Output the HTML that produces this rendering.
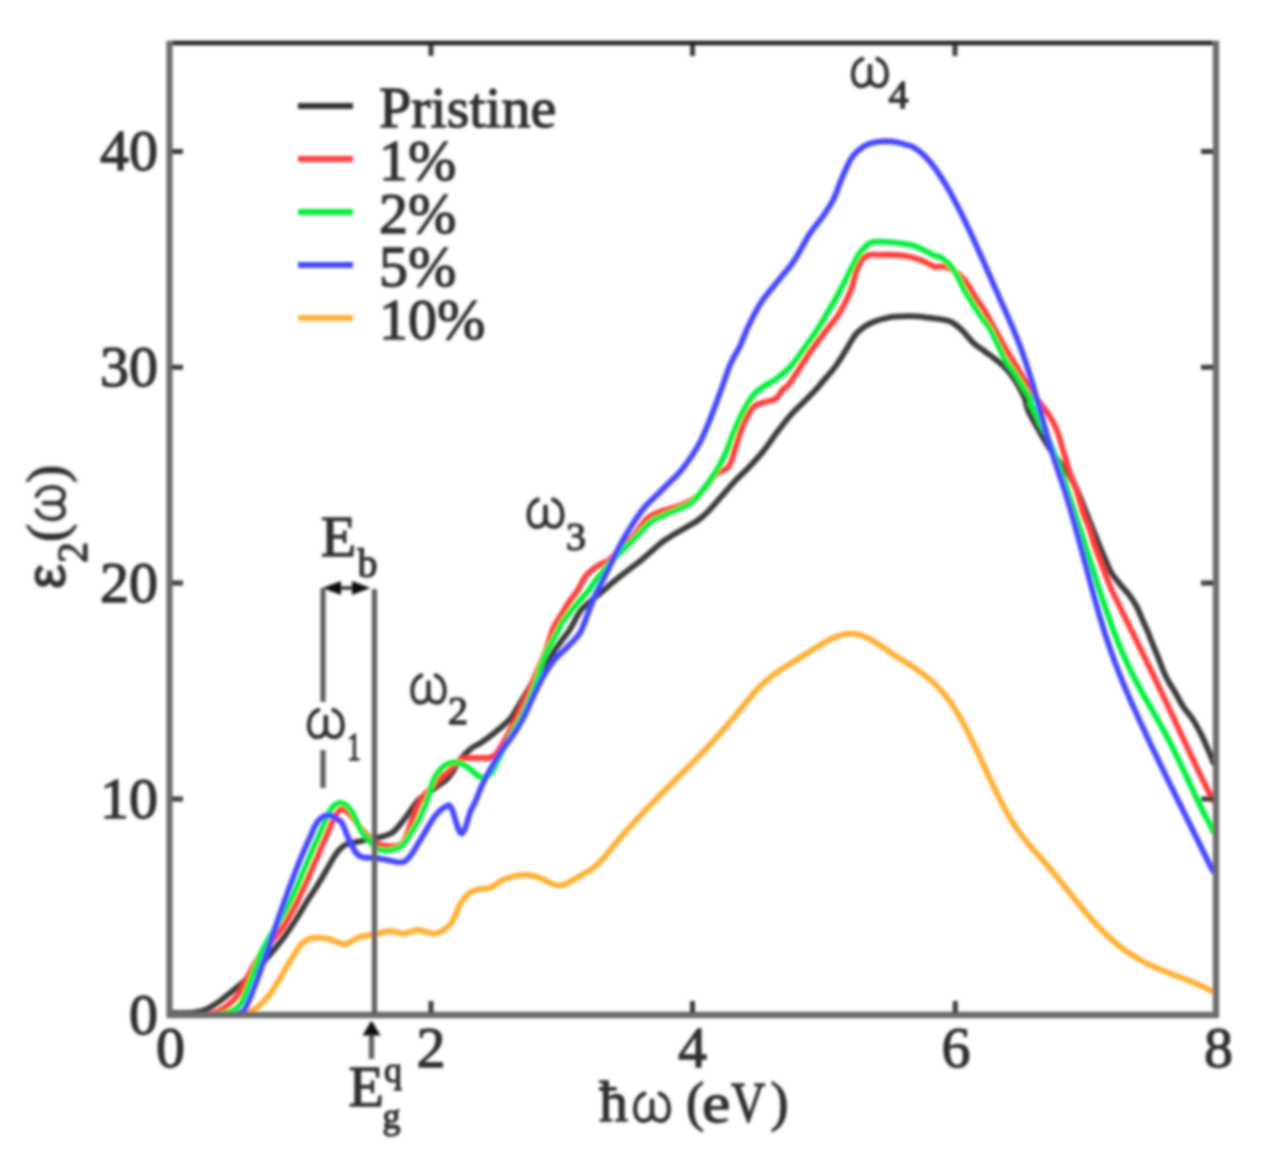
<!DOCTYPE html>
<html><head><meta charset="utf-8"><style>
html,body{margin:0;padding:0;background:#fff;}
body{width:1271px;height:1152px;overflow:hidden;}
svg{display:block;}
svg{font-family:"Liberation Serif",serif;}
text{fill:#2e2e2e;stroke:#2e2e2e;stroke-width:1.3px;}
</style></head><body>
<svg width="1271" height="1152" viewBox="0 0 1271 1152">
<defs><filter id="bl" x="-5%" y="-5%" width="110%" height="110%"><feGaussianBlur stdDeviation="1.4"/></filter>
<g id="om" fill="none" stroke="#2e2e2e" stroke-linecap="round">
<path stroke-width="4.5" d="M12 -30.5C5.5 -28 2.2 -21.5 2.2 -15C2.2 -7 5.5 -2.2 11 -2.2C15.5 -2.2 18.6 -4.5 19.8 -9"/>
<path stroke-width="4.5" d="M28 -30.5C34.5 -28 37.8 -21.5 37.8 -15C37.8 -7 34.5 -2.2 29 -2.2C24.5 -2.2 21.4 -4.5 20.2 -9"/>
<path stroke-width="4.8" d="M20 -23V-8"/>
</g></defs>
<rect width="1271" height="1152" fill="#fff"/>
<g filter="url(#bl)">
<!-- curves -->
<g fill="none" stroke-width="5.8" stroke-linejoin="round" stroke-linecap="round">
<path stroke="#ffb036" d="M170.0 1015.0C181.0 1015.0 224.0 1015.2 236.0 1015.0C248.0 1014.8 240.0 1014.5 242.0 1014.0C244.0 1013.5 245.8 1012.9 248.0 1012.0C250.2 1011.1 253.0 1010.2 255.5 1008.5C258.0 1006.8 260.6 1004.6 263.1 1002.0C265.6 999.4 268.2 996.4 270.7 993.0C273.2 989.6 275.7 985.6 278.2 981.5C280.7 977.4 283.3 972.5 285.8 968.3C288.3 964.0 290.9 959.8 293.3 956.0C295.7 952.2 297.9 948.3 300.0 945.7C302.1 943.1 304.0 941.8 306.0 940.5C308.0 939.2 308.4 938.3 312.0 938.0C315.6 937.7 322.3 937.7 327.8 938.7C333.3 939.7 339.8 944.3 345.0 944.0C350.2 943.7 354.1 938.6 359.0 937.0C363.9 935.4 369.4 935.4 374.6 934.4C379.8 933.4 385.1 931.1 390.0 931.0C394.9 930.9 399.3 933.7 404.0 933.5C408.7 933.3 412.8 930.0 418.0 930.0C423.2 930.0 430.2 934.3 435.4 933.5C440.6 932.7 446.0 928.6 449.4 925.4C452.8 922.2 453.8 918.1 455.7 914.4C457.6 910.7 458.4 906.8 460.5 903.4C462.6 900.0 465.4 896.4 468.3 894.0C471.2 891.6 474.1 890.2 477.8 889.2C481.5 888.2 486.2 889.3 490.4 887.7C494.6 886.1 498.8 881.8 503.0 879.8C507.2 877.8 511.3 876.7 515.5 875.9C519.7 875.1 523.9 874.6 528.1 875.0C532.3 875.4 537.0 876.9 540.7 878.2C544.4 879.5 547.1 881.8 550.2 883.0C553.4 884.2 556.5 885.4 559.6 885.3C562.7 885.2 565.3 883.9 569.0 882.2C572.7 880.5 577.4 877.5 581.6 875.0C585.8 872.5 590.5 870.1 594.2 867.2C597.9 864.3 601.3 860.4 603.7 857.8C606.1 855.2 607.0 853.9 608.7 851.9C610.4 849.8 612.0 847.7 613.7 845.7C615.4 843.6 617.0 841.6 618.7 839.7C620.4 837.7 622.0 835.8 623.7 833.8C625.4 831.9 627.0 830.0 628.7 828.2C630.4 826.3 632.0 824.5 633.7 822.7C635.4 820.8 637.0 819.0 638.7 817.3C640.4 815.5 642.0 813.7 643.7 812.0C645.4 810.2 647.0 808.5 648.7 806.8C650.4 805.1 652.0 803.4 653.7 801.7C655.4 800.0 657.0 798.3 658.7 796.6C660.4 794.9 662.0 793.3 663.7 791.6C665.4 789.9 667.0 788.3 668.7 786.6C670.4 784.9 672.0 783.3 673.7 781.6C675.4 780.0 677.0 778.3 678.7 776.6C680.4 775.0 682.0 773.3 683.7 771.6C685.4 770.0 687.0 768.3 688.7 766.6C690.4 764.9 692.0 763.2 693.7 761.5C695.4 759.8 697.0 758.1 698.7 756.4C700.4 754.7 702.0 752.9 703.7 751.2C705.4 749.4 707.0 747.6 708.7 745.9C710.4 744.1 712.0 742.3 713.7 740.4C715.4 738.6 717.0 736.8 718.7 734.9C720.4 733.1 722.0 731.2 723.7 729.3C725.4 727.3 727.0 725.4 728.7 723.4C730.4 721.5 732.0 719.5 733.7 717.5C735.4 715.5 737.0 713.4 738.7 711.3C740.4 709.3 742.0 707.2 743.7 705.1C745.4 703.1 747.0 701.0 748.7 699.1C750.4 697.1 752.0 695.1 753.7 693.2C755.4 691.3 757.0 689.5 758.7 687.8C760.4 686.1 762.0 684.4 763.7 682.9C765.4 681.4 767.0 679.9 768.7 678.6C770.4 677.2 772.0 675.9 773.7 674.7C775.4 673.5 777.0 672.3 778.7 671.1C780.4 670.0 782.0 668.9 783.7 667.8C785.4 666.7 787.0 665.6 788.7 664.6C790.4 663.5 792.0 662.5 793.7 661.5C795.4 660.4 797.0 659.4 798.7 658.4C800.4 657.4 802.0 656.4 803.7 655.3C805.4 654.3 807.0 653.3 808.7 652.2C810.4 651.2 812.0 650.1 813.7 649.0C815.4 648.0 817.0 646.9 818.7 645.9C820.4 644.9 822.0 643.9 823.7 642.9C825.4 642.0 827.0 641.0 828.7 640.2C830.4 639.3 832.0 638.5 833.7 637.8C835.4 637.1 837.0 636.4 838.7 635.8C840.4 635.3 842.0 634.8 843.7 634.4C845.4 634.1 847.0 633.8 848.7 633.7C850.4 633.6 852.0 633.6 853.7 633.7C855.4 633.8 857.0 634.1 858.7 634.6C860.4 635.0 862.0 635.6 863.7 636.2C865.4 636.9 867.0 637.7 868.7 638.5C870.4 639.4 872.0 640.3 873.7 641.3C875.4 642.3 877.0 643.4 878.7 644.5C880.4 645.6 882.0 646.7 883.7 647.9C885.4 649.0 887.0 650.2 888.7 651.3C890.4 652.5 892.0 653.6 893.7 654.7C895.4 655.8 897.0 656.8 898.7 657.9C900.4 659.0 902.0 660.0 903.7 661.0C905.4 662.1 907.0 663.1 908.7 664.2C910.4 665.3 912.0 666.3 913.7 667.4C915.4 668.5 917.0 669.7 918.7 670.9C920.4 672.0 922.0 673.2 923.7 674.5C925.4 675.8 927.0 677.1 928.7 678.6C930.4 680.0 932.0 681.4 933.7 683.0C935.4 684.6 937.0 686.2 938.7 688.0C940.4 689.7 942.0 691.6 943.7 693.5C945.4 695.5 947.0 697.6 948.7 699.8C950.4 702.1 952.0 704.4 953.7 707.0C955.4 709.5 957.0 712.2 958.7 715.1C960.4 717.9 962.0 721.0 963.7 724.1C965.4 727.2 967.0 730.4 968.7 733.8C970.4 737.1 972.0 740.5 973.7 744.0C975.4 747.4 977.0 751.0 978.7 754.5C980.4 758.1 982.0 761.7 983.7 765.3C985.4 768.9 987.0 772.5 988.7 776.1C990.4 779.6 992.0 783.2 993.7 786.7C995.4 790.1 997.0 793.6 998.7 796.9C1000.4 800.3 1002.0 803.6 1003.7 806.7C1005.4 809.9 1007.0 812.9 1008.7 815.8C1010.4 818.7 1012.0 821.5 1013.7 824.1C1015.4 826.7 1017.0 829.1 1018.7 831.5C1020.4 833.8 1022.0 836.0 1023.7 838.1C1025.4 840.3 1027.0 842.3 1028.7 844.3C1030.4 846.3 1032.0 848.2 1033.7 850.0C1035.4 851.9 1037.0 853.8 1038.7 855.6C1040.4 857.5 1042.0 859.3 1043.7 861.2C1045.4 863.1 1047.0 865.0 1048.7 867.0C1050.4 869.0 1052.0 870.9 1053.7 873.0C1055.4 875.0 1057.0 877.0 1058.7 879.1C1060.4 881.1 1062.0 883.2 1063.7 885.3C1065.4 887.4 1067.0 889.5 1068.7 891.6C1070.4 893.6 1072.0 895.7 1073.7 897.8C1075.4 899.9 1077.0 901.9 1078.7 904.0C1080.4 906.0 1082.0 908.0 1083.7 910.0C1085.4 912.0 1087.0 914.0 1088.7 915.9C1090.4 917.8 1092.0 919.7 1093.7 921.6C1095.4 923.4 1097.0 925.2 1098.7 926.9C1100.4 928.6 1102.0 930.3 1103.7 932.0C1105.4 933.6 1107.0 935.2 1108.7 936.8C1110.4 938.3 1112.0 939.8 1113.7 941.2C1115.4 942.7 1117.0 944.1 1118.7 945.4C1120.4 946.7 1122.0 948.0 1123.7 949.3C1125.4 950.5 1127.0 951.7 1128.7 952.8C1130.4 954.0 1132.0 955.1 1133.7 956.1C1135.4 957.1 1137.0 958.1 1138.7 959.1C1140.4 960.0 1142.0 960.9 1143.7 961.8C1145.4 962.7 1147.0 963.5 1148.7 964.3C1150.4 965.1 1152.0 965.9 1153.7 966.6C1155.4 967.4 1157.0 968.1 1158.7 968.8C1160.4 969.5 1162.0 970.2 1163.7 970.9C1165.4 971.5 1167.0 972.2 1168.7 972.8C1170.4 973.5 1172.0 974.1 1173.7 974.7C1175.4 975.4 1177.0 976.0 1178.7 976.6C1180.4 977.3 1182.0 977.9 1183.7 978.6C1185.4 979.2 1187.0 979.8 1188.7 980.5C1190.4 981.2 1192.0 981.8 1193.7 982.5C1195.4 983.2 1197.0 984.0 1198.7 984.7C1200.4 985.4 1202.0 986.2 1203.7 987.0C1205.4 987.8 1207.1 988.7 1208.7 989.5C1210.3 990.2 1212.5 991.2 1213.2 991.5"/>
<path stroke="#3a3a3a" d="M170.0 1013.0C172.5 1013.0 180.8 1013.1 185.0 1013.0C189.2 1012.9 192.0 1012.7 195.0 1012.3C198.0 1011.9 200.5 1011.4 203.0 1010.6C205.5 1009.8 207.2 1009.2 210.0 1007.6C212.8 1006.0 216.2 1003.8 220.0 1001.0C223.8 998.2 228.7 994.2 233.0 990.7C237.3 987.2 241.4 983.9 245.6 980.0C249.8 976.1 254.0 971.9 258.2 967.5C262.4 963.1 266.6 958.4 270.8 953.5C275.0 948.6 279.2 943.7 283.4 938.0C287.6 932.3 292.1 925.5 296.0 919.5C299.9 913.5 303.1 907.6 306.6 902.0C310.1 896.4 313.7 891.3 317.0 886.0C320.3 880.7 323.7 874.8 326.5 870.0C329.3 865.2 331.8 860.5 334.0 857.0C336.2 853.5 338.0 851.1 340.0 849.0C342.0 846.9 344.0 845.5 346.0 844.5C348.0 843.5 348.7 843.8 352.0 843.0C355.3 842.2 361.9 840.6 366.0 839.8C370.1 839.0 372.1 839.1 376.4 838.0C380.7 836.9 387.5 835.9 392.0 832.9C396.5 829.9 400.4 823.8 403.6 820.0C406.8 816.2 408.5 813.3 411.0 810.0C413.5 806.7 416.2 802.5 418.5 800.0C420.8 797.5 422.9 796.5 425.0 795.0C427.1 793.5 428.8 792.6 431.0 791.0C433.2 789.4 436.0 787.3 438.5 785.5C441.0 783.7 443.7 782.2 446.0 780.0C448.3 777.8 450.2 775.3 452.5 772.0C454.8 768.7 456.8 763.9 459.8 760.0C462.9 756.1 467.2 751.6 470.8 748.7C474.4 745.8 477.5 745.2 481.6 742.4C485.7 739.6 490.9 735.8 495.5 732.0C500.1 728.2 505.9 723.6 509.4 719.8C512.9 716.0 513.5 714.0 516.4 709.4C519.3 704.8 522.7 698.6 526.8 692.0C530.9 685.4 537.3 675.3 541.0 670.0C544.7 664.7 546.7 663.3 549.0 660.0C551.3 656.7 552.6 653.3 554.8 650.0C557.0 646.7 559.5 643.3 562.0 640.0C564.5 636.7 566.3 635.0 569.5 630.0C572.7 625.0 577.2 615.0 581.0 610.0C584.8 605.0 588.2 603.3 592.0 600.0C595.8 596.7 600.7 592.8 604.0 590.0C607.3 587.2 609.2 585.3 612.0 583.0C614.8 580.7 617.4 578.5 620.6 576.0C623.8 573.5 627.5 570.7 631.0 568.0C634.5 565.3 637.8 563.0 641.5 560.0C645.2 557.0 649.1 553.3 653.0 550.0C656.9 546.7 660.2 543.3 665.0 540.0C669.8 536.7 675.9 533.3 681.5 530.0C687.1 526.7 694.0 523.0 698.4 520.0C702.8 517.0 703.9 515.8 707.8 511.8C711.7 507.8 717.0 501.4 721.6 496.2C726.2 491.0 730.9 485.5 735.5 480.6C740.1 475.7 744.8 471.6 749.4 466.7C754.0 461.8 758.7 456.9 763.3 451.1C767.9 445.3 772.6 438.1 777.2 432.0C781.8 425.9 786.5 419.8 791.1 414.6C795.7 409.4 800.9 404.8 805.0 400.7C809.1 396.6 812.3 393.4 815.5 390.0C818.7 386.6 821.1 383.3 824.0 380.0C826.9 376.7 830.3 373.0 832.7 370.0C835.1 367.0 836.3 365.3 838.5 362.0C840.7 358.7 843.9 353.4 846.0 350.0C848.1 346.6 849.3 344.2 851.0 341.5C852.7 338.8 854.0 336.3 856.0 334.0C858.0 331.7 860.5 329.5 862.8 327.8C865.1 326.1 867.4 324.8 869.7 323.6C872.0 322.4 874.4 321.6 876.7 320.8C879.0 320.0 880.6 319.5 883.6 318.8C886.6 318.1 889.6 317.1 895.0 316.7C900.4 316.3 908.5 315.9 916.0 316.3C923.5 316.7 934.1 318.3 940.0 319.2C945.9 320.1 947.4 320.0 951.1 321.9C954.8 323.8 958.5 326.8 962.2 330.3C965.9 333.8 969.6 339.3 973.3 342.8C977.0 346.3 980.7 348.3 984.4 351.1C988.1 353.9 992.4 356.8 995.6 359.4C998.9 361.9 1001.1 363.6 1003.9 366.4C1006.7 369.2 1009.7 372.6 1012.2 376.1C1014.8 379.6 1017.1 383.5 1019.2 387.2C1021.3 390.9 1023.2 394.4 1024.7 398.3C1026.2 402.2 1026.1 405.7 1028.3 410.8C1030.5 415.9 1034.8 423.1 1038.0 428.9C1041.2 434.7 1044.5 440.5 1047.8 445.6C1051.0 450.7 1054.5 455.2 1057.5 459.4C1060.5 463.6 1063.2 466.9 1065.8 470.6C1068.3 474.3 1070.7 478.0 1072.8 481.7C1074.9 485.4 1076.4 488.6 1078.3 492.8C1080.2 497.0 1082.1 502.1 1083.9 506.7C1085.8 511.3 1087.6 516.0 1089.4 520.6C1091.2 525.2 1093.2 530.0 1095.0 534.4C1096.8 538.8 1098.4 543.1 1100.0 547.0C1101.6 550.9 1102.8 553.6 1104.7 558.0C1106.7 562.4 1108.9 568.7 1111.7 573.3C1114.5 577.9 1118.4 582.1 1121.4 585.8C1124.4 589.5 1127.2 592.1 1129.7 595.6C1132.2 599.1 1134.6 602.8 1136.7 606.7C1138.8 610.6 1140.4 615.0 1142.2 619.2C1144.0 623.4 1146.0 627.3 1147.8 631.7C1149.6 636.1 1151.4 641.0 1153.3 645.6C1155.2 650.2 1157.1 654.8 1158.9 659.4C1160.8 664.0 1162.6 669.2 1164.4 673.3C1166.2 677.4 1168.2 680.9 1170.0 684.0C1171.8 687.1 1172.8 688.2 1175.0 692.0C1177.2 695.8 1180.1 701.9 1183.1 706.5C1186.1 711.1 1190.0 715.0 1193.0 719.7C1196.0 724.4 1198.8 729.7 1201.3 734.6C1203.8 739.5 1206.0 744.9 1207.9 749.4C1209.9 753.9 1212.1 759.3 1213.0 761.5C1213.9 763.7 1213.2 762.3 1213.2 762.5"/>
<path stroke="#ff3c3c" d="M170.0 1015.0C175.0 1015.0 193.3 1015.2 200.0 1015.0C206.7 1014.8 207.0 1014.6 210.0 1014.0C213.0 1013.4 215.3 1012.8 218.0 1011.5C220.7 1010.2 223.5 1008.3 226.0 1006.5C228.5 1004.7 231.0 1002.4 233.0 1000.5C235.0 998.6 236.3 997.5 238.0 995.1C239.7 992.7 241.3 989.3 243.0 986.2C244.7 983.0 246.3 979.5 248.0 976.3C249.7 973.0 251.3 969.7 253.0 966.7C254.7 963.7 256.3 960.8 258.0 958.3C259.7 955.7 261.3 953.5 263.0 951.3C264.7 949.1 266.3 947.2 268.0 945.2C269.7 943.3 271.3 941.5 273.0 939.5C274.7 937.5 276.3 935.6 278.0 933.5C279.7 931.4 281.3 929.1 283.0 926.7C284.7 924.2 286.3 921.5 288.0 918.7C289.7 915.9 291.3 912.9 293.0 909.7C294.7 906.6 296.3 903.3 298.0 899.9C299.7 896.5 301.3 893.0 303.0 889.4C304.7 885.8 306.3 882.1 308.0 878.4C309.7 874.6 311.3 870.8 313.0 866.9C314.7 863.1 316.3 859.2 318.0 855.3C319.7 851.4 321.7 846.5 323.0 843.5C324.3 840.4 324.7 840.1 326.0 837.0C327.3 833.9 329.3 828.7 331.0 825.0C332.7 821.3 334.2 817.7 336.0 815.0C337.8 812.3 339.8 809.6 341.6 809.0C343.4 808.4 345.1 810.0 347.0 811.5C348.9 813.0 351.0 815.6 353.0 818.0C355.0 820.4 357.0 823.5 359.0 826.0C361.0 828.5 363.3 831.1 365.0 833.0C366.7 834.9 367.7 835.8 369.0 837.2C370.3 838.6 369.9 840.1 372.9 841.6C375.9 843.1 381.9 845.7 386.8 846.0C391.7 846.3 398.2 847.6 402.4 843.3C406.6 839.0 409.7 825.5 412.0 820.0C414.3 814.5 414.6 813.3 416.0 810.0C417.4 806.7 418.9 802.8 420.6 800.0C422.3 797.2 424.1 795.2 426.0 793.0C427.9 790.8 430.0 789.0 432.0 787.0C434.0 785.0 436.0 783.0 438.0 781.0C440.0 779.0 442.2 776.6 444.0 775.0C445.8 773.4 447.1 773.2 448.8 771.5C450.5 769.8 452.2 766.9 454.0 765.0C455.8 763.1 458.0 761.1 459.8 760.0C461.6 758.9 463.2 758.6 465.0 758.3C466.8 758.0 467.0 758.0 470.8 758.0C474.6 758.0 485.0 758.0 488.0 758.0C491.0 758.0 487.4 758.6 488.6 758.0C489.9 757.4 493.2 756.8 495.5 754.5C497.8 752.2 499.3 749.5 502.5 744.0C505.7 738.5 510.6 729.7 514.6 721.6C518.6 713.5 523.0 703.9 526.8 695.5C530.6 687.1 534.0 678.8 537.2 671.2C540.4 663.6 543.5 656.9 546.0 650.0C548.5 643.1 550.5 635.0 552.5 630.0C554.5 625.0 556.1 623.3 558.0 620.0C559.9 616.7 561.9 613.3 564.0 610.0C566.1 606.7 568.2 603.3 570.5 600.0C572.8 596.7 575.3 594.0 577.8 590.0C580.3 586.0 583.3 579.3 585.7 576.0C588.1 572.7 589.8 571.8 592.0 570.0C594.2 568.2 596.1 566.7 599.0 565.0C601.9 563.3 605.9 562.4 609.4 559.8C612.9 557.2 615.8 553.4 619.8 549.4C623.8 545.4 629.1 540.7 633.7 535.5C638.3 530.3 643.0 522.2 647.6 518.2C652.2 514.2 656.3 513.2 661.5 511.2C666.7 509.2 672.8 508.5 678.8 506.0C684.8 503.5 691.4 501.3 697.4 496.2C703.4 491.1 709.5 480.3 714.7 475.4C719.9 470.5 725.1 471.3 728.6 466.7C732.1 462.1 733.2 454.2 735.5 447.6C737.8 441.0 739.6 433.5 742.5 426.8C745.4 420.1 749.4 411.8 752.9 407.7C756.4 403.6 759.5 403.9 763.3 402.5C767.0 401.1 772.2 401.1 775.4 399.0C778.6 396.9 780.1 392.7 782.5 390.0C784.9 387.3 785.5 389.2 790.0 383.0C794.5 376.8 803.4 361.9 809.5 353.0C815.6 344.1 821.7 336.5 826.8 329.7C831.9 322.9 835.9 318.9 839.9 312.4C843.9 305.9 847.8 297.9 850.7 290.7C853.6 283.5 854.7 274.8 857.2 269.0C859.8 263.2 862.4 258.4 866.0 256.0C869.6 253.6 872.9 254.9 879.0 254.8C885.1 254.7 895.7 254.5 902.6 255.4C909.5 256.3 915.3 258.1 920.6 260.0C925.9 261.9 931.0 265.6 934.2 266.7C937.4 267.8 937.6 266.2 940.0 266.4C942.4 266.6 945.1 266.4 948.3 267.8C951.5 269.2 956.1 271.9 959.4 274.7C962.6 277.5 965.0 280.5 967.8 284.4C970.6 288.3 973.4 294.0 976.1 298.3C978.8 302.6 981.0 304.7 984.2 310.0C987.5 315.3 992.3 324.4 995.6 330.3C998.9 336.2 1001.1 340.8 1003.9 345.6C1006.7 350.5 1009.4 354.8 1012.2 359.4C1015.0 364.0 1017.8 368.7 1020.6 373.3C1023.4 377.9 1026.4 383.0 1028.9 387.2C1031.4 391.4 1033.8 395.5 1035.8 398.3C1037.8 401.1 1038.3 400.6 1040.8 403.9C1043.3 407.1 1047.8 413.2 1050.6 417.8C1053.4 422.4 1055.7 427.1 1057.5 431.7C1059.3 436.3 1060.3 441.0 1061.7 445.6C1063.1 450.2 1064.4 454.8 1065.8 459.4C1067.2 464.0 1068.4 468.7 1070.0 473.3C1071.6 477.9 1074.0 482.6 1075.6 487.2C1077.2 491.8 1078.3 496.5 1079.7 501.1C1081.1 505.7 1082.3 510.4 1083.9 515.0C1085.5 519.6 1087.8 524.3 1089.4 528.9C1091.0 533.5 1092.0 537.9 1093.6 542.8C1095.2 547.6 1097.1 552.5 1099.2 558.0C1101.3 563.5 1104.1 571.0 1106.1 576.1C1108.1 581.2 1109.4 584.8 1111.1 588.6C1112.8 592.4 1114.4 595.6 1116.1 599.0C1117.8 602.5 1119.4 605.9 1121.1 609.3C1122.8 612.7 1124.4 616.1 1126.1 619.5C1127.8 622.9 1129.4 626.3 1131.1 629.7C1132.8 633.1 1134.4 636.5 1136.1 639.9C1137.8 643.3 1139.4 646.7 1141.1 650.1C1142.8 653.5 1144.4 656.9 1146.1 660.3C1147.8 663.7 1149.4 667.2 1151.1 670.6C1152.8 674.1 1154.4 677.5 1156.1 681.0C1157.8 684.5 1159.4 688.0 1161.1 691.5C1162.8 695.0 1164.4 698.5 1166.1 702.1C1167.8 705.6 1169.4 709.2 1171.1 712.7C1172.8 716.3 1174.4 719.9 1176.1 723.4C1177.8 727.0 1179.4 730.6 1181.1 734.2C1182.8 737.7 1184.4 741.3 1186.1 744.8C1187.8 748.4 1189.4 751.9 1191.1 755.5C1192.8 759.0 1194.4 762.5 1196.1 766.0C1197.8 769.5 1199.4 772.9 1201.1 776.4C1202.8 779.8 1204.4 783.2 1206.1 786.6C1207.8 789.9 1209.8 794.2 1211.1 796.6C1212.3 799.0 1213.2 800.3 1213.6 801.0"/>
<path stroke="#00f03c" d="M170.0 1015.0C176.7 1015.0 202.0 1015.1 210.0 1015.0C218.0 1014.9 214.2 1015.1 217.8 1014.4C221.5 1013.7 228.1 1012.5 231.9 1010.8C235.7 1009.1 238.2 1007.1 240.4 1004.2C242.7 1001.3 243.7 997.5 245.4 993.5C247.1 989.5 248.7 984.9 250.4 980.5C252.1 976.1 253.7 971.4 255.4 967.2C257.1 962.9 258.7 958.7 260.4 955.0C262.1 951.3 263.7 947.9 265.4 944.7C267.1 941.5 268.7 938.6 270.4 935.8C272.1 932.9 273.7 930.3 275.4 927.6C277.1 924.9 278.7 922.4 280.4 919.6C282.1 916.9 283.7 914.2 285.4 911.2C287.1 908.2 288.7 905.1 290.4 901.7C292.1 898.3 293.7 894.5 295.4 890.8C297.1 887.0 298.7 882.9 300.4 878.9C302.1 875.0 303.7 870.9 305.4 866.9C307.1 863.0 308.7 859.1 310.4 855.2C312.1 851.3 313.7 847.5 315.4 843.7C317.1 840.0 318.8 836.2 320.4 832.6C322.0 829.0 323.4 825.6 325.0 822.0C326.6 818.4 328.3 813.8 330.0 811.0C331.7 808.2 333.1 806.3 335.0 805.0C336.9 803.7 339.4 802.7 341.6 803.0C343.8 803.3 346.1 805.2 348.0 807.0C349.9 808.8 351.5 811.3 353.0 814.0C354.5 816.7 355.7 820.0 357.2 823.0C358.7 826.0 360.4 829.6 362.0 832.0C363.6 834.4 365.5 835.9 366.7 837.2C367.9 838.5 367.8 837.9 369.4 839.8C371.0 841.7 372.9 846.8 376.4 848.5C379.9 850.2 385.9 850.8 390.2 850.2C394.5 849.6 398.6 848.5 402.4 845.0C406.2 841.5 410.1 833.6 412.8 829.4C415.5 825.2 417.0 823.2 418.7 820.0C420.4 816.8 421.6 813.3 423.0 810.0C424.4 806.7 426.0 803.3 427.2 800.0C428.4 796.7 429.1 793.3 430.2 790.0C431.3 786.7 432.8 782.5 433.8 780.0C434.9 777.5 434.9 777.2 436.5 775.0C438.1 772.8 440.9 768.7 443.3 766.7C445.7 764.7 448.4 763.4 451.1 762.8C453.9 762.1 457.2 762.1 459.8 762.8C462.4 763.4 464.4 765.0 466.9 766.7C469.4 768.4 472.7 771.4 474.7 773.0C476.7 774.6 477.7 775.7 479.0 776.5C480.3 777.3 481.4 777.9 482.6 777.8C483.9 777.7 484.9 777.0 486.5 776.0C488.1 775.0 489.3 776.2 492.0 772.0C494.7 767.8 499.0 757.7 502.5 751.0C506.0 744.3 509.4 738.4 512.9 732.0C516.4 725.6 519.8 720.1 523.3 712.9C526.8 705.7 530.2 697.9 533.7 688.6C537.2 679.4 540.0 667.2 544.1 657.4C548.2 647.6 555.1 636.1 558.2 630.0C561.4 623.9 560.8 624.3 563.0 621.0C565.2 617.7 568.7 613.5 571.5 610.0C574.3 606.5 577.1 603.3 580.0 600.0C582.9 596.7 586.5 593.2 589.1 590.0C591.7 586.8 592.1 585.2 595.5 580.7C598.9 576.2 604.8 568.5 609.4 563.3C614.0 558.1 618.7 554.0 623.3 549.4C627.9 544.8 632.6 540.1 637.2 535.5C641.8 530.9 646.4 525.1 651.0 521.6C655.6 518.1 660.2 516.9 665.0 514.7C669.8 512.5 675.8 510.2 680.0 508.3C684.2 506.4 686.9 505.7 690.4 503.1C693.9 500.5 696.8 497.6 700.8 492.7C704.8 487.8 710.7 480.0 714.7 473.6C718.8 467.2 721.9 461.4 725.1 454.5C728.3 447.6 730.9 438.9 733.8 432.0C736.7 425.1 739.3 419.0 742.5 412.9C745.7 406.8 749.4 399.8 752.9 395.5C756.4 391.2 759.2 389.8 763.3 386.9C767.3 384.0 772.6 381.7 777.2 378.2C781.8 374.7 786.5 371.2 791.1 366.0C795.8 360.8 801.5 352.1 805.1 347.1C808.8 342.1 810.7 339.4 813.0 336.0C815.3 332.6 817.3 329.7 819.0 327.0C820.7 324.3 821.6 322.8 823.3 320.0C825.0 317.2 827.0 313.3 829.0 310.0C831.0 306.7 832.2 305.0 835.0 300.0C837.8 295.0 842.7 285.5 845.5 280.0C848.3 274.5 849.7 271.4 852.0 267.0C854.3 262.6 856.4 257.7 859.4 253.7C862.4 249.7 866.3 244.9 870.3 242.9C874.3 240.9 878.7 241.8 883.3 241.8C887.9 241.8 892.5 242.2 898.0 243.0C903.5 243.8 910.0 244.3 916.0 246.4C922.0 248.5 930.2 253.7 934.2 255.4C938.2 257.1 937.6 255.3 940.0 256.7C942.4 258.1 945.5 260.6 948.3 263.6C951.1 266.6 954.0 270.3 956.7 274.7C959.4 279.1 962.1 285.8 964.4 290.0C966.7 294.2 968.5 296.7 970.5 300.0C972.5 303.3 974.5 306.7 976.7 310.0C978.9 313.3 981.3 316.9 983.5 320.0C985.7 323.1 987.5 324.6 990.0 328.9C992.5 333.2 995.5 340.1 998.3 345.6C1001.1 351.2 1003.9 357.6 1006.7 362.2C1009.5 366.8 1012.2 369.1 1015.0 373.3C1017.8 377.5 1020.8 383.0 1023.3 387.2C1025.8 391.4 1029.1 395.3 1030.3 398.3C1031.5 401.3 1030.5 404.2 1030.6 405.1C1030.7 406.0 1029.4 400.6 1031.1 403.9C1032.8 407.2 1038.3 419.8 1040.8 424.7C1043.2 429.6 1044.1 430.1 1045.8 433.5C1047.5 436.9 1049.1 440.9 1050.8 444.9C1052.5 448.8 1054.1 453.0 1055.8 457.4C1057.5 461.7 1059.1 466.2 1060.8 470.8C1062.5 475.4 1064.1 480.2 1065.8 485.1C1067.5 490.0 1069.1 495.0 1070.8 500.0C1072.5 505.1 1074.1 510.2 1075.8 515.4C1077.5 520.6 1079.1 525.9 1080.8 531.1C1082.5 536.4 1084.1 541.7 1085.8 547.0C1087.5 552.3 1089.1 557.6 1090.8 562.9C1092.5 568.1 1094.1 573.4 1095.8 578.6C1097.5 583.7 1099.1 588.9 1100.8 593.9C1102.5 599.0 1104.1 603.9 1105.8 608.8C1107.5 613.6 1109.1 618.4 1110.8 623.0C1112.5 627.6 1114.1 632.1 1115.8 636.4C1117.5 640.7 1119.1 644.8 1120.8 648.8C1122.5 652.8 1124.1 656.5 1125.8 660.2C1127.5 663.9 1129.1 667.4 1130.8 670.8C1132.5 674.2 1134.1 677.4 1135.8 680.6C1137.5 683.8 1139.1 686.9 1140.8 690.0C1142.5 693.1 1144.1 696.0 1145.8 699.0C1147.5 701.9 1149.1 704.8 1150.8 707.8C1152.5 710.7 1154.1 713.6 1155.8 716.5C1157.5 719.4 1159.1 722.3 1160.8 725.3C1162.5 728.3 1164.1 731.4 1165.8 734.5C1167.5 737.6 1169.1 740.8 1170.8 744.0C1172.5 747.3 1174.1 750.7 1175.8 754.1C1177.5 757.5 1179.1 761.0 1180.8 764.5C1182.5 768.0 1184.1 771.6 1185.8 775.2C1187.5 778.8 1189.1 782.4 1190.8 785.9C1192.5 789.5 1194.1 793.0 1195.8 796.5C1197.5 800.0 1199.1 803.5 1200.8 806.9C1202.5 810.2 1204.1 813.6 1205.8 816.8C1207.5 820.0 1209.5 823.5 1210.8 826.1C1212.1 828.6 1213.1 831.0 1213.6 832.0"/>
<path stroke="#4646ff" d="M170.0 1015.0C179.2 1015.0 213.9 1015.1 225.0 1015.0C236.1 1014.9 233.5 1015.1 236.7 1014.2C239.9 1013.4 242.1 1012.3 244.2 1009.9C246.3 1007.5 247.5 1003.7 249.2 999.9C250.9 996.2 252.5 991.7 254.2 987.3C255.9 983.0 257.5 978.4 259.2 973.8C260.9 969.2 262.5 964.4 264.2 959.7C265.9 954.9 267.5 950.0 269.2 945.2C270.9 940.4 272.5 935.5 274.2 930.6C275.9 925.8 277.5 921.0 279.2 916.2C280.9 911.4 282.5 906.7 284.2 902.0C285.9 897.4 287.5 892.7 289.2 888.2C290.9 883.7 292.5 879.2 294.2 874.9C295.9 870.5 297.5 866.3 299.2 862.1C300.9 858.0 302.5 854.0 304.2 850.1C305.9 846.2 308.2 841.0 309.2 838.9C310.2 836.8 309.0 839.7 310.0 837.5C311.0 835.3 313.3 829.1 315.0 826.0C316.7 822.9 317.7 820.8 320.0 819.0C322.3 817.2 326.2 815.1 328.9 815.0C331.6 814.9 333.8 817.2 336.0 818.5C338.2 819.8 340.0 819.9 342.0 823.0C344.0 826.1 345.6 832.2 347.8 837.0C350.1 841.8 353.1 848.6 355.5 852.0C357.9 855.4 359.3 856.2 362.5 857.2C365.7 858.2 370.6 857.6 374.6 858.0C378.7 858.4 382.5 859.1 386.8 859.8C391.1 860.5 396.9 862.8 400.7 862.4C404.4 862.0 405.8 861.3 409.3 857.2C412.8 853.1 417.1 845.0 421.5 838.0C425.9 831.0 431.1 820.9 435.4 815.5C439.7 810.1 444.9 806.8 447.5 805.5C450.1 804.2 450.0 806.1 451.0 807.5C452.0 808.9 452.8 811.6 453.6 814.0C454.4 816.4 455.2 819.4 456.0 822.0C456.8 824.6 457.7 827.6 458.5 829.5C459.3 831.4 460.2 833.1 461.0 833.5C461.8 833.9 462.7 833.2 463.5 832.0C464.3 830.8 465.2 828.2 466.0 826.0C466.8 823.8 467.2 821.7 468.0 819.0C468.8 816.3 469.9 812.7 471.0 810.0C472.1 807.3 472.6 807.6 474.7 803.0C476.8 798.4 480.5 788.3 483.4 782.3C486.3 776.2 488.8 772.2 492.0 766.7C495.2 761.2 499.0 754.5 502.5 749.3C506.0 744.1 509.4 740.6 512.9 735.4C516.4 730.2 519.8 724.6 523.3 718.0C526.8 711.4 530.3 702.5 533.7 695.5C537.1 688.5 540.1 681.8 543.5 676.0C546.9 670.2 549.9 665.4 553.9 660.5C557.9 655.6 563.4 651.2 567.8 646.6C572.1 642.0 576.5 638.5 580.0 632.7C583.5 626.9 586.0 618.3 588.6 611.9C591.2 605.5 593.2 599.7 595.5 594.5C597.8 589.3 599.9 585.9 602.5 580.7C605.1 575.5 608.0 569.7 611.2 563.3C614.4 556.9 618.1 548.9 621.6 542.5C625.1 536.1 628.3 530.8 632.0 525.0C635.7 519.2 639.7 513.0 644.0 507.8C648.3 502.6 653.4 498.5 658.0 493.9C662.6 489.3 668.2 483.7 671.9 480.0C675.6 476.3 676.9 475.6 680.0 471.9C683.1 468.2 686.9 463.2 690.4 458.0C693.9 452.8 697.3 447.6 700.8 440.7C704.3 433.8 707.7 425.1 711.2 416.4C714.7 407.7 718.4 397.3 721.6 388.6C724.8 379.9 727.2 371.4 730.3 364.3C733.4 357.2 736.9 352.5 740.0 346.0C743.1 339.5 745.1 332.8 748.7 325.4C752.3 318.0 756.7 309.1 761.7 301.5C766.8 293.9 773.6 286.7 779.0 279.8C784.4 272.9 789.2 267.9 794.3 260.3C799.4 252.7 804.8 241.4 809.5 234.2C814.2 226.9 818.5 222.6 822.5 216.8C826.5 211.0 830.1 206.0 833.4 199.5C836.6 193.0 838.8 185.1 842.0 177.8C845.2 170.6 848.9 161.4 852.9 156.0C856.9 150.6 861.6 147.6 866.0 145.2C870.4 142.8 874.7 142.2 879.0 141.6C883.3 141.0 888.5 141.3 892.0 141.5C895.5 141.7 897.8 142.5 900.0 143.0C902.2 143.5 903.3 144.1 905.0 144.5C906.7 145.0 908.3 145.2 910.0 145.8C911.7 146.4 913.3 147.3 915.0 148.3C916.7 149.3 918.3 150.5 920.0 151.8C921.7 153.2 923.3 154.7 925.0 156.4C926.7 158.1 928.3 159.9 930.0 161.9C931.7 163.9 933.3 166.0 935.0 168.3C936.7 170.6 938.3 173.0 940.0 175.5C941.7 178.0 943.3 180.7 945.0 183.4C946.7 186.2 948.3 189.1 950.0 192.1C951.7 195.0 953.3 198.1 955.0 201.3C956.7 204.4 958.3 207.7 960.0 211.0C961.7 214.3 963.3 217.7 965.0 221.2C966.7 224.6 968.3 228.2 970.0 231.7C971.7 235.3 973.3 238.9 975.0 242.6C976.7 246.3 978.3 250.0 980.0 253.7C981.7 257.4 983.3 261.2 985.0 265.0C986.7 268.8 988.3 272.6 990.0 276.3C991.7 280.1 993.3 284.0 995.0 287.7C996.7 291.5 998.3 295.3 1000.0 299.1C1001.7 302.9 1003.3 306.6 1005.0 310.3C1006.7 314.1 1008.3 317.8 1010.0 321.6C1011.7 325.4 1013.3 329.3 1015.0 333.3C1016.7 337.4 1018.3 341.5 1020.0 346.0C1021.7 350.5 1023.3 355.1 1025.0 360.1C1026.7 365.0 1028.3 370.3 1030.0 375.7C1031.7 381.1 1033.3 386.7 1035.0 392.5C1036.7 398.3 1038.3 404.3 1040.0 410.3C1041.7 416.2 1043.3 422.4 1045.0 428.3C1046.7 434.2 1048.3 440.1 1050.0 445.7C1051.7 451.2 1053.3 456.5 1055.0 461.6C1056.7 466.8 1058.3 471.5 1060.0 476.5C1061.7 481.5 1063.3 486.3 1065.0 491.5C1066.7 496.8 1068.3 502.2 1070.0 507.8C1071.7 513.5 1073.3 519.4 1075.0 525.4C1076.7 531.4 1078.3 537.6 1080.0 543.8C1081.7 550.0 1083.3 556.3 1085.0 562.6C1086.7 568.9 1088.3 575.2 1090.0 581.4C1091.7 587.6 1093.3 593.8 1095.0 599.8C1096.7 605.8 1098.3 611.7 1100.0 617.4C1101.7 623.0 1103.3 628.4 1105.0 633.7C1106.7 638.9 1108.3 643.8 1110.0 648.6C1111.7 653.4 1113.3 658.0 1115.0 662.5C1116.7 666.9 1118.3 671.2 1120.0 675.4C1121.7 679.6 1123.3 683.6 1125.0 687.6C1126.7 691.5 1128.3 695.4 1130.0 699.2C1131.7 703.0 1133.3 706.7 1135.0 710.4C1136.7 714.1 1138.3 717.8 1140.0 721.4C1141.7 725.0 1143.3 728.6 1145.0 732.2C1146.7 735.8 1148.3 739.3 1150.0 742.9C1151.7 746.4 1153.3 749.9 1155.0 753.3C1156.7 756.8 1158.3 760.3 1160.0 763.7C1161.7 767.1 1163.3 770.6 1165.0 774.0C1166.7 777.4 1168.3 780.8 1170.0 784.2C1171.7 787.5 1173.3 790.9 1175.0 794.3C1176.7 797.7 1178.3 801.0 1180.0 804.4C1181.7 807.7 1183.3 811.1 1185.0 814.5C1186.7 817.8 1188.3 821.2 1190.0 824.6C1191.7 827.9 1193.3 831.3 1195.0 834.7C1196.7 838.1 1198.3 841.5 1200.0 844.9C1201.7 848.3 1203.3 851.7 1205.0 855.1C1206.7 858.6 1208.6 862.8 1210.0 865.5C1211.4 868.2 1213.0 870.5 1213.6 871.5"/>
</g>
<!-- frame -->
<g fill="none" stroke-linecap="butt">
<line x1="167" y1="43" x2="1219" y2="43" stroke="#1e1e1e" stroke-width="4.6"/>
<line x1="169.5" y1="41" x2="169.5" y2="1017.5" stroke="#6c6c6c" stroke-width="6.3"/>
<line x1="1216" y1="41" x2="1216" y2="1017.5" stroke="#6c6c6c" stroke-width="6.3"/>
<line x1="167" y1="1015" x2="1218.5" y2="1015" stroke="#6c6c6c" stroke-width="6.3"/>
</g>
<!-- ticks -->
<g stroke="#3a3a3a" stroke-width="5" fill="none">
<path d="M172 151.5H183M172 367.3H183M172 583H183M172 799H183"/>
<path d="M1213 151.5H1201M1213 367.3H1201M1213 583H1201M1213 799H1201"/>
<path d="M431 1013V1001M692.5 1013V1001M955.3 1013V1001"/>
<path d="M431 45V56M692.5 45V56M955 45V56"/>
</g>
<!-- tick labels -->
<g font-size="58" text-anchor="end">
<text x="158" y="169.5">40</text>
<text x="158" y="386">30</text>
<text x="158" y="602">20</text>
<text x="158" y="818">10</text>
<text x="158" y="1034">0</text>
</g>
<g font-size="58" text-anchor="middle">
<text x="170.5" y="1067">0</text>
<text x="431" y="1067">2</text>
<text x="692.5" y="1067">4</text>
<text x="956" y="1067">6</text>
<text x="1218.5" y="1067">8</text>
</g>
<!-- axis titles -->
<g font-size="58">
<text x="599" y="1121">ħ</text>
<use href="#om" transform="translate(633 1122.9) scale(0.95 0.96)"/>
<text x="686" y="1120" font-size="54">(</text>
<text transform="translate(702 1121.5) scale(1.1 1)">e</text>
<text transform="translate(731 1121.5) scale(0.82 1)">V</text>
<text x="770.4" y="1120" font-size="54">)</text>
</g>
<g transform="translate(64.8 588.9) rotate(-90)">
<text x="0" y="0" font-family="Liberation Sans" font-size="56">ε</text>
<text x="26" y="22" font-size="42">2</text>
<text x="47" y="0" font-size="54">(</text>
<use href="#om" transform="translate(67.8 1.2) scale(0.9 0.96)"/>
<text x="106" y="0" font-size="54">)</text>
</g>
<!-- legend -->
<g stroke-width="5.8" fill="none">
<line x1="298" y1="106" x2="353" y2="106" stroke="#333"/>
<line x1="298" y1="159" x2="353" y2="159" stroke="#ff3c3c"/>
<line x1="298" y1="212" x2="353" y2="212" stroke="#00ee3a"/>
<line x1="298" y1="265" x2="353" y2="265" stroke="#4646ff"/>
<line x1="298" y1="318" x2="353" y2="318" stroke="#ffb036"/>
</g>
<g font-size="58">
<text x="379" y="127">Pristine</text>
<text x="379" y="180">1%</text>
<text x="379" y="233">2%</text>
<text x="379" y="286">5%</text>
<text x="379" y="339">10%</text>
</g>
<!-- annotations -->
<g stroke="#606060" stroke-width="5.3" fill="none">
<path d="M323 588V702"/>
<path d="M323 750V788"/>
<path d="M374.5 589V1015"/>
<path d="M371.5 1034V1059"/>

</g>
<path d="M336 588H357" stroke="#333" stroke-width="3.5" fill="none"/>
<g fill="#111">
<path d="M322.5 588L341 581L341 595Z"/>
<path d="M370.5 588L352 581L352 595Z"/>
<path d="M371.5 1020.5L362.5 1035.5L380.5 1035.5Z"/>
</g>
<g font-size="58">
<use href="#om" transform="translate(306.8 739.2) scale(0.95 0.96)"/>
<text transform="translate(347 760) scale(0.7 1)" font-size="40">1</text>
<use href="#om" transform="translate(410.3 704.7) scale(0.91 0.96)"/>
<text x="448" y="723.8" font-size="40">2</text>
<use href="#om" transform="translate(526.5 528.9) scale(0.95 0.96)"/>
<text x="566" y="549.8" font-size="40">3</text>
<use href="#om" transform="translate(850.9 88.2) scale(0.95 0.96)"/>
<text x="888.6" y="108.4" font-size="40">4</text>
<text x="320.8" y="556.3">E</text>
<text x="357.4" y="577" font-size="40">b</text>
<text x="348.5" y="1106.3">E</text>
<text x="384.1" y="1082.3" font-size="36">q</text>
<text x="382.5" y="1128.1" font-size="36">g</text>
</g>
</g>
</svg>
</body></html>
